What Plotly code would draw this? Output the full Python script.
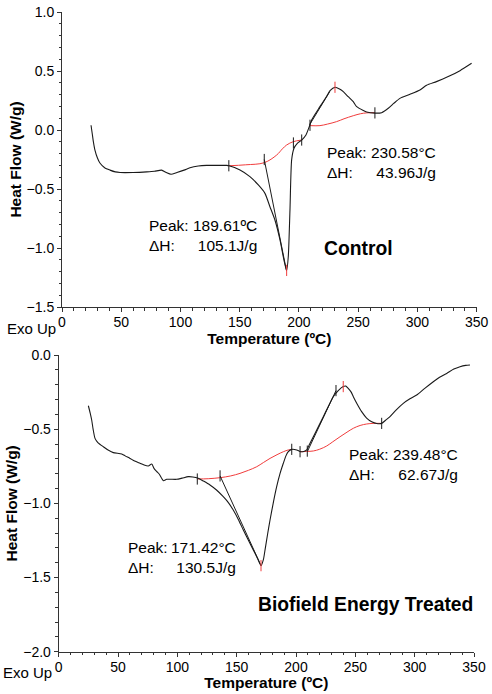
import plotly.graph_objects as go

# ---------------- Control (top) ----------------
ctrl_temp = [24.5, 25.5, 26.5, 27.8, 30, 32, 36, 40.5, 45, 49, 60, 71.5, 78, 84, 88, 92, 97, 103,
             108, 115, 122, 130, 139, 141, 150.2, 158.6, 165.7, 171.3, 175.5, 179.7, 184, 187.3,
             189.6, 191, 192.4, 193.8, 195.8, 198.6, 202.3, 205.9, 208.7, 210.7, 217.7, 223,
             226.2, 230.4, 234.6, 237.4, 241.6, 245.8, 248.7, 254.3, 257.1, 264.1, 269.8, 275.4,
             280, 285.2, 293.7, 302.1, 307.7, 316, 324.6, 335.9, 345.7]
ctrl_flow = [0.04, -0.03, -0.10, -0.17, -0.24, -0.28, -0.32, -0.34, -0.355, -0.36, -0.36, -0.355,
             -0.35, -0.34, -0.36, -0.375, -0.36, -0.34, -0.32, -0.305, -0.30, -0.30, -0.30, -0.303,
             -0.339, -0.395, -0.466, -0.537, -0.65, -0.763, -0.932, -1.10, -1.19, -1.07, -0.678,
             -0.254, -0.155, -0.113, -0.085, -0.042, 0.028, 0.085, 0.198, 0.28, 0.333, 0.362,
             0.345, 0.325, 0.282, 0.24, 0.198, 0.165, 0.152, 0.143, 0.147, 0.184, 0.225, 0.268,
             0.302, 0.339, 0.379, 0.41, 0.446, 0.503, 0.565]

ctrl_base1_temp = [140.8, 155, 170.7, 181.2, 186, 189.6, 195.2, 202.3]
ctrl_base1_flow = [-0.303, -0.295, -0.277, -0.212, -0.16, -0.127, -0.099, -0.085]
ctrl_base2_temp = [209.3, 217.7, 224, 231.8, 238, 245.8, 252, 257.1, 264.1]
ctrl_base2_flow = [0.037, 0.037, 0.05, 0.071, 0.095, 0.121, 0.138, 0.145, 0.147]

ctrl_tan1_temp = [170.7, 189.4]
ctrl_tan1_flow = [-0.25, -1.19]
ctrl_tan2_temp = [209.0, 226.0]
ctrl_tan2_flow = [0.045, 0.325]

ctrl_mark_temp = [140.8, 170.7, 195.3, 202.3, 209.3, 264.1]
ctrl_mark_flow = [-0.303, -0.25, -0.11, -0.085, 0.04, 0.145]
ctrl_peak_temp = [189.6, 230.4]
ctrl_peak_flow = [-1.19, 0.362]

# ---------------- Biofield Energy Treated (bottom) ----------------
trt_temp = [25.0, 26.5, 27.8, 29, 30.6, 33, 37.6, 42, 46.0, 53.1, 56, 60.1, 64, 68.5, 72, 75.5,
            78.4, 80.3, 82.5, 84.8, 88.2, 91.0, 99.4, 104, 109.2, 113, 117.6, 122, 127.5, 133,
            138.7, 143, 147.1, 151.5, 155.6, 160, 164, 167.5, 170.5, 172.5, 173.9, 176, 178.1,
            181, 183.7, 186.5, 189.3, 191.5, 193.5, 196.4, 200.6, 203.9, 206.5, 209, 211.5,
            214.6, 219, 223, 227, 231.4, 235.6, 239.8, 242, 244, 246.5, 248.3, 251.5, 255.3,
            259.5, 263.8, 268, 272.2, 275.5, 279.2, 284.5, 290.4, 296, 301.7, 308.5, 315.7, 321,
            327, 333, 338.2, 343, 346.6]
trt_flow = [-0.342, -0.39, -0.438, -0.5, -0.562, -0.59, -0.618, -0.642, -0.658, -0.667, -0.68,
            -0.697, -0.715, -0.73, -0.742, -0.748, -0.735, -0.764, -0.785, -0.804, -0.847, -0.838,
            -0.838, -0.83, -0.82, -0.822, -0.831, -0.85, -0.876, -0.91, -0.955, -0.995, -1.045,
            -1.11, -1.18, -1.25, -1.314, -1.37, -1.42, -1.38, -1.314, -1.21, -1.112, -0.99,
            -0.888, -0.8, -0.73, -0.68, -0.652, -0.636, -0.64, -0.652, -0.65, -0.64, -0.6, -0.551,
            -0.48, -0.416, -0.35, -0.281, -0.24, -0.213, -0.21, -0.225, -0.25, -0.281, -0.33,
            -0.382, -0.425, -0.45, -0.462, -0.461, -0.44, -0.416, -0.37, -0.326, -0.295, -0.27,
            -0.225, -0.18, -0.15, -0.124, -0.095, -0.079, -0.07, -0.067]

trt_base1_temp = [116.8, 126, 135.9, 145, 152.8, 160, 166.9, 172.5, 178.1, 184, 189.3, 193.5, 196.4]
trt_base1_flow = [-0.836, -0.834, -0.827, -0.815, -0.798, -0.777, -0.753, -0.725, -0.697, -0.672,
                  -0.652, -0.64, -0.636]
trt_base2_temp = [203.4, 209, 214.6, 220, 225.9, 231, 237.1, 243, 248.3, 254, 259.6, 265, 272.2]
trt_base2_flow = [-0.652, -0.65, -0.647, -0.635, -0.613, -0.585, -0.551, -0.52, -0.494, -0.475,
                  -0.465, -0.461, -0.461]

trt_tan1_temp = [136.0, 170.5]
trt_tan1_flow = [-0.815, -1.42]
trt_tan2_temp = [209.8, 233.7]
trt_tan2_flow = [-0.647, -0.24]

trt_mark_temp = [116.8, 136.0, 196.4, 203.4, 209.5, 233.7, 272.2]
trt_mark_flow = [-0.836, -0.815, -0.636, -0.652, -0.648, -0.24, -0.461]
trt_peak_temp = [170.5, 239.8]
trt_peak_flow = [-1.42, -0.213]

FONT = "Arial, Liberation Sans, sans-serif"
BLACK = "#1a1a1a"
RED = "#f03c3c"

FW, FH = 492, 694


def px(x):
    return x / FW


def py(y):
    return 1 - y / FH


fig = go.Figure()


def add_panel(xa, ya, t, f, b1t, b1f, b2t, b2f, t1t, t1f, t2t, t2f, mt, mf, pt, pf):
    common = dict(xaxis=xa, yaxis=ya, showlegend=False, hoverinfo="skip")
    fig.add_trace(go.Scatter(x=b1t, y=b1f, mode="lines", line=dict(color=RED, width=1, shape="spline"), **common))
    fig.add_trace(go.Scatter(x=b2t, y=b2f, mode="lines", line=dict(color=RED, width=1, shape="spline"), **common))
    fig.add_trace(go.Scatter(x=t1t, y=t1f, mode="lines", line=dict(color=BLACK, width=1), **common))
    fig.add_trace(go.Scatter(x=t2t, y=t2f, mode="lines", line=dict(color=BLACK, width=1), **common))
    fig.add_trace(go.Scatter(x=t, y=f, mode="lines", line=dict(color=BLACK, width=1.1, shape="spline", smoothing=0.6), **common))
    fig.add_trace(go.Scatter(x=mt, y=mf, mode="markers",
                             marker=dict(symbol="line-ns", size=8, line=dict(color=BLACK, width=1)), **common))
    fig.add_trace(go.Scatter(x=pt, y=pf, mode="markers",
                             marker=dict(symbol="line-ns", size=8, line=dict(color=RED, width=1)), **common))


add_panel("x", "y", ctrl_temp, ctrl_flow, ctrl_base1_temp, ctrl_base1_flow, ctrl_base2_temp,
          ctrl_base2_flow, ctrl_tan1_temp, ctrl_tan1_flow, ctrl_tan2_temp, ctrl_tan2_flow,
          ctrl_mark_temp, ctrl_mark_flow, ctrl_peak_temp, ctrl_peak_flow)
add_panel("x2", "y2", trt_temp, trt_flow, trt_base1_temp, trt_base1_flow, trt_base2_temp,
          trt_base2_flow, trt_tan1_temp, trt_tan1_flow, trt_tan2_temp, trt_tan2_flow,
          trt_mark_temp, trt_mark_flow, trt_peak_temp, trt_peak_flow)

axis_common = dict(showgrid=False, zeroline=False, showline=True, linecolor="#333333", linewidth=1,
                   ticks="outside", ticklen=4, tickwidth=1, tickcolor="#333333", automargin=False,
                   ticklabeloverflow="allow",
                   tickfont=dict(family=FONT, size=14, color="#000000"))
title_font = dict(family=FONT, size=15.5, color="#000000")
minor_common = dict(ticklen=2.5, ticks="outside", tickcolor="#333333")

fig.update_layout(
    width=FW, height=FH,
    margin=dict(l=0, r=0, t=0, b=0),
    paper_bgcolor="white", plot_bgcolor="white",
    xaxis=dict(domain=[px(62), px(476.7)], range=[0, 350], dtick=50, anchor="y",
               ticklabelstandoff=-2, minor=dict(dtick=10, **minor_common),
               title=dict(text="<b>Temperature (ºC)</b>", font=title_font, standoff=3),
               **axis_common),
    yaxis=dict(domain=[py(307), py(12)], range=[-1.5, 1.0], dtick=0.5, tickformat=".1f",
               anchor="x", minor=dict(dtick=0.1, **minor_common),
               title=dict(text="<b>Heat Flow (W/g)</b>", font=title_font, standoff=1),
               **axis_common),
    xaxis2=dict(domain=[px(58.7), px(474)], range=[0, 350], dtick=50, anchor="y2",
                ticklabelstandoff=-2, minor=dict(dtick=10, **minor_common),
                title=dict(text="<b>Temperature (ºC)</b>", font=title_font, standoff=3),
                **axis_common),
    yaxis2=dict(domain=[py(651.7), py(355)], range=[-2.0, 0.0], dtick=0.5, tickformat=".1f",
                anchor="x2", minor=dict(dtick=0.1, **minor_common),
                title=dict(text="<b>Heat Flow (W/g)</b>", font=title_font, standoff=1),
                **axis_common),
)

ann_font = dict(family=FONT, size=15.5, color="#000000")
bold_font = dict(family=FONT, size=19.3, color="#000000")


def text_pair(xl, xr, yc, value1, value2):
    fig.add_annotation(xref="paper", yref="paper", x=px(xl), y=py(yc), xanchor="left",
                       yanchor="middle", align="left", showarrow=False, text="Peak:<br>ΔH:",
                       font=ann_font)
    fig.add_annotation(xref="paper", yref="paper", x=px(xr), y=py(yc), xanchor="right",
                       yanchor="middle", align="right", showarrow=False,
                       text=value1 + "<br>" + value2, font=ann_font)


text_pair(147, 259, 235.5, "189.61ºC", "105.1J/g")
text_pair(325, 438, 162, "230.58°C", "43.96J/g")
text_pair(126, 238, 557.5, "171.42°C", "130.5J/g")
text_pair(347, 460, 464, "239.48°C", "62.67J/g")

fig.add_annotation(xref="paper", yref="paper", x=px(322), y=py(249), xanchor="left",
                   yanchor="middle", showarrow=False, text="<b>Control</b>", font=bold_font)
fig.add_annotation(xref="paper", yref="paper", x=px(256), y=py(604), xanchor="left",
                   yanchor="middle", showarrow=False, text="<b>Biofield Energy Treated</b>",
                   font=bold_font)
for xl, yc in ((5, 328), (1, 672)):
    fig.add_annotation(xref="paper", yref="paper", x=px(xl), y=py(yc), xanchor="left",
                       yanchor="middle", showarrow=False, text="Exo Up",
                       font=dict(family=FONT, size=15, color="#000000"))

fig.write_html("out.html", config={"displayModeBar": False},
               post_script="document.body.style.margin='0px';")
